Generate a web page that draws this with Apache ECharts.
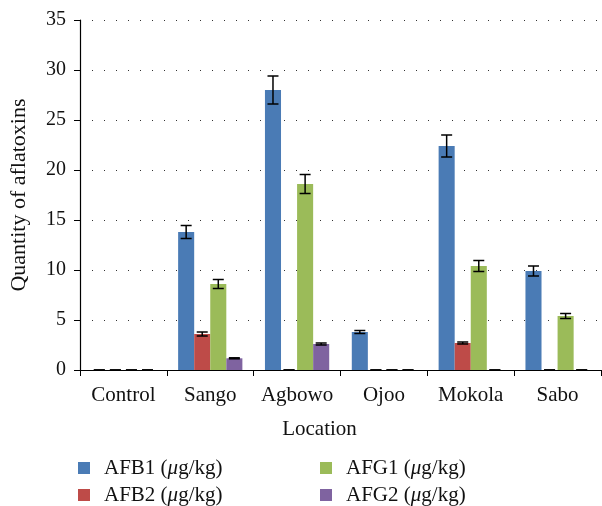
<!DOCTYPE html>
<html><head><meta charset="utf-8">
<script src="https://cdn.jsdelivr.net/npm/echarts@6/dist/echarts.min.js"></script>
<style>html,body{margin:0;padding:0;background:#fff}#c{width:602px;height:506px}</style>
</head><body><div id="c"></div>
<script>
var categories = ['Control', 'Sango', 'Agbowo', 'Ojoo', 'Mokola', 'Sabo'];
var seriesNames = ['AFB1 (μg/kg)', 'AFB2 (μg/kg)', 'AFG1 (μg/kg)', 'AFG2 (μg/kg)'];
var afb1 = [0, 13.8, 28.0, 3.8, 22.4, 9.9];
var afb2 = [0, 3.6, 0, 0, 2.7, 0];
var afg1 = [0, 8.6, 18.6, 0, 10.4, 5.4];
var afg2 = [0, 1.17, 2.6, 0, 0, 0];
var afb1Err = [0, 0.65, 1.4, 0.15, 1.1, 0.5];
var afb2Err = [0, 0.2, 0, 0, 0.1, 0];
var afg1Err = [0, 0.45, 0.95, 0, 0.55, 0.25];
var afg2Err = [0, 0.05, 0.1, 0, 0, 0];
var yTicks = [0, 5, 10, 15, 20, 25, 30, 35];

var colors = ['#4A7BB5', '#BE4B48', '#9BBB59', '#7F63A0'];
var values = [afb1, afb2, afg1, afg2];
var errs = [afb1Err, afb2Err, afg1Err, afg2Err];
var GAP = 0.26;
var FONT = '"Liberation Serif", "DejaVu Serif", serif';

var series = [];
values.forEach(function (v, i) {
  series.push({
    name: seriesNames[i], type: 'bar', data: v, barGap: '0%', barCategoryGap: (GAP * 100) + '%',
    itemStyle: { color: colors[i] }
  });
});
values.forEach(function (v, i) {
  var data = v.map(function (val, k) { return [k, val - errs[i][k], val + errs[i][k]]; });
  series.push({
    type: 'custom', name: 'err' + i, data: data, z: 10,
    renderItem: function (params, api) {
      var k = api.value(0);
      var x = api.coord([k, 0])[0];
      var band = api.size([1, 0])[0];
      var bw = band * (1 - GAP) / 4;
      var cx = x + (i - 1.5) * bw;
      var lo = api.coord([k, api.value(1)])[1];
      var hi = api.coord([k, api.value(2)])[1];
      var hw = 5.5;
      var st = { stroke: '#000', lineWidth: 1.5 };
      return { type: 'group', children: [
        { type: 'line', shape: { x1: cx, y1: lo, x2: cx, y2: hi }, style: st },
        { type: 'line', shape: { x1: cx - hw, y1: lo, x2: cx + hw, y2: lo }, style: st },
        { type: 'line', shape: { x1: cx - hw, y1: hi, x2: cx + hw, y2: hi }, style: st }
      ] };
    }
  });
});

function fmt(name) { return name.replace('μ', '{i|μ}'); }
var legendText = { fontFamily: FONT, fontSize: 21, color: '#111', lineHeight: 22, padding: [0, 0, 0, 9],
  rich: { i: { fontFamily: FONT, fontStyle: 'italic', fontSize: 21, color: '#111' } } };
var legendPos = [[73, 452], [73, 479], [315, 452], [315, 479]];
var legends = seriesNames.map(function (n, i) {
  return { data: [n], left: legendPos[i][0], top: legendPos[i][1], itemWidth: 12, itemHeight: 12,
    itemGap: 14, icon: 'rect', itemStyle: { borderWidth: 0 }, textStyle: legendText,
    formatter: fmt, selectedMode: false };
});

var chart = echarts.init(document.getElementById('c'), null, { renderer: 'canvas' });
chart.setOption({
  animation: false,
  grid: { left: 79, right: 1, top: 20, bottom: 136, containLabel: false },
  legend: legends,
  xAxis: {
    type: 'category', data: categories,
    name: 'Location', nameLocation: 'middle', nameGap: 49,
    nameTextStyle: { fontFamily: FONT, fontSize: 21, color: '#111', padding: [0, 42, 0, 0] },
    axisLine: { lineStyle: { color: '#000', width: 1.2 } },
    axisTick: { show: true, length: 6, interval: 0, lineStyle: { color: '#000' } },
    axisLabel: { fontFamily: FONT, fontSize: 21, color: '#111', margin: 15, interval: 0, hideOverlap: false }
  },
  yAxis: {
    type: 'value', min: 0, max: 35, interval: 5,
    name: 'Quantity of aflatoxins', nameLocation: 'middle', nameGap: 50, nameRotate: 90,
    nameTextStyle: { fontFamily: FONT, fontSize: 22, color: '#111' },
    axisLine: { show: true, lineStyle: { color: '#000', width: 1.2 } },
    axisTick: { show: true, length: 6, lineStyle: { color: '#000' } },
    axisLabel: { fontFamily: FONT, fontSize: 20, color: '#111', margin: 14,
      formatter: function (v) { return yTicks.indexOf(v) >= 0 ? String(v) : ''; } },
    splitLine: { show: true, lineStyle: { color: '#333', width: 1, type: [1, 11] } }
  },
  series: series
});
</script></body></html>
